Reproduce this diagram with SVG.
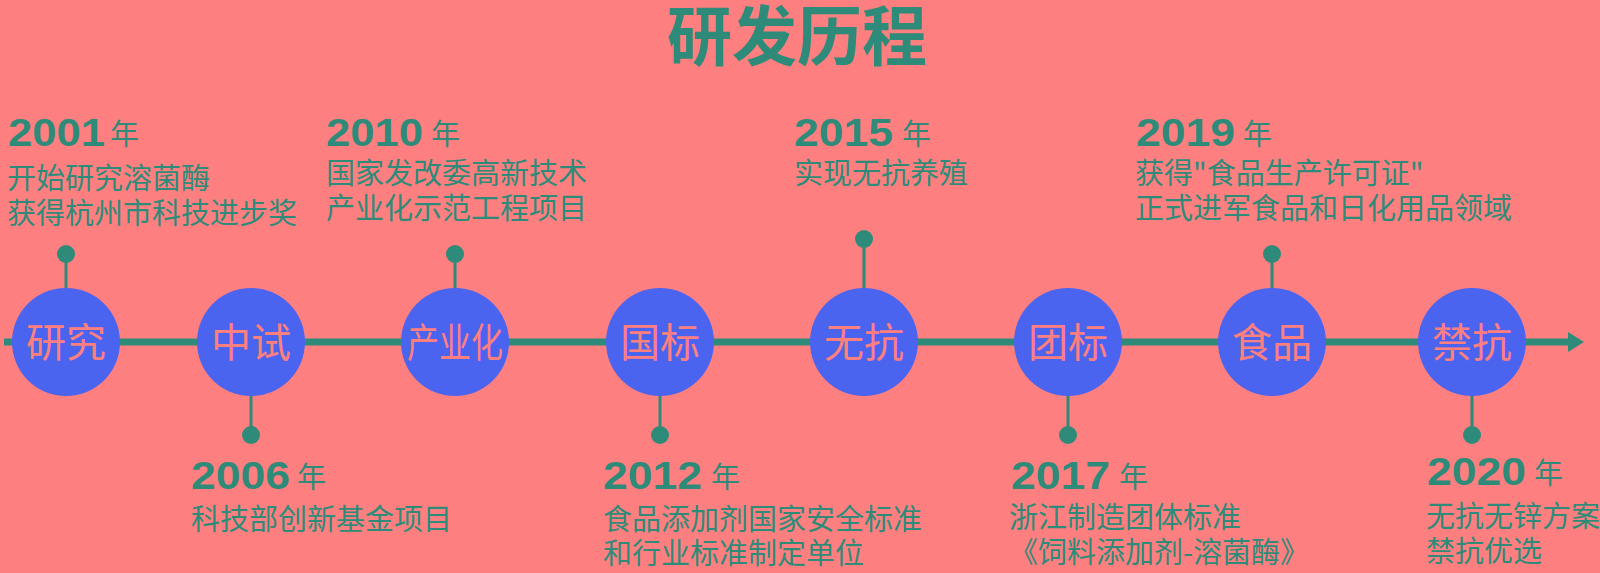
<svg xmlns="http://www.w3.org/2000/svg" width="1600" height="573" viewBox="0 0 1600 573">
<style>
.bg{fill:#FE7F7F}
.ttl{font-family:"Noto Sans CJK SC","Noto Sans",sans-serif;font-weight:bold;font-size:65px;fill:#2E8B7A}
.node{fill:#4B64EF}
.lbl{font-family:"Noto Sans CJK SC","Noto Sans",sans-serif;font-size:40px;fill:#FF7F7F;text-anchor:middle}
.yr{font-family:"Liberation Sans",Arial,sans-serif;font-weight:bold;font-size:38px;fill:#2E8B7A}
.nian{font-family:"Noto Sans CJK SC",sans-serif;font-size:29px;fill:#2E8B7A}
.txt{font-family:"Noto Sans CJK SC","Noto Sans",sans-serif;font-size:29px;fill:#2E8B7A}
.stem{stroke:#2E8B7A;stroke-width:3;fill:none}
.dot{fill:#2E8B7A}
</style>
<rect class="bg" x="0" y="0" width="1600" height="573"/>
<text class="ttl" x="797" y="60" text-anchor="middle">研发历程</text>

<g id="connectors">
  <line x1="4" y1="342" x2="1570" y2="342" stroke="#2E8B7A" stroke-width="7"/>
  <polygon points="1568,332 1584,342 1568,352" fill="#2E8B7A"/>
  <line class="stem" x1="66" y1="254" x2="66" y2="290"/>
  <line class="stem" x1="251" y1="394" x2="251" y2="435"/>
  <line class="stem" x1="455" y1="254" x2="455" y2="290"/>
  <line class="stem" x1="660" y1="394" x2="660" y2="435"/>
  <line class="stem" x1="864" y1="239" x2="864" y2="290"/>
  <line class="stem" x1="1068" y1="394" x2="1068" y2="435"/>
  <line class="stem" x1="1272" y1="254" x2="1272" y2="290"/>
  <line class="stem" x1="1472" y1="394" x2="1472" y2="435"/>
  <circle class="dot" cx="66" cy="254" r="9"/>
  <circle class="dot" cx="251" cy="435" r="9"/>
  <circle class="dot" cx="455" cy="254" r="9"/>
  <circle class="dot" cx="660" cy="435" r="9"/>
  <circle class="dot" cx="864" cy="239" r="9"/>
  <circle class="dot" cx="1068" cy="435" r="9"/>
  <circle class="dot" cx="1272" cy="254" r="9"/>
  <circle class="dot" cx="1472" cy="435" r="9"/>
</g>

<g id="n2001">
  <circle class="node" cx="66" cy="342" r="54"/>
  <text class="lbl" x="66" y="357">研究</text>
  <text class="yr" x="8" y="146" textLength="97" lengthAdjust="spacingAndGlyphs">2001</text>
  <text class="nian" x="110" y="145">年</text>
  <text class="txt" x="7" y="189">开始研究溶菌酶</text>
  <text class="txt" x="7" y="224">获得杭州市科技进步奖</text>
</g>

<g id="n2006">
  <circle class="node" cx="251" cy="342" r="54"/>
  <text class="lbl" x="251" y="357">中试</text>
  <text class="yr" x="191" y="489" textLength="99" lengthAdjust="spacingAndGlyphs">2006</text>
  <text class="nian" x="297" y="488">年</text>
  <text class="txt" x="191" y="530">科技部创新基金项目</text>
</g>

<g id="n2010">
  <circle class="node" cx="455" cy="342" r="54"/>
  <text class="lbl" x="455" y="357" textLength="96" lengthAdjust="spacingAndGlyphs">产业化</text>
  <text class="yr" x="326" y="146" textLength="97" lengthAdjust="spacingAndGlyphs">2010</text>
  <text class="nian" x="431" y="145">年</text>
  <text class="txt" x="326" y="184">国家发改委高新技术</text>
  <text class="txt" x="326" y="219">产业化示范工程项目</text>
</g>

<g id="n2012">
  <circle class="node" cx="660" cy="342" r="54"/>
  <text class="lbl" x="660" y="357">国标</text>
  <text class="yr" x="603" y="489" textLength="99" lengthAdjust="spacingAndGlyphs">2012</text>
  <text class="nian" x="711" y="488">年</text>
  <text class="txt" x="603" y="530">食品添加剂国家安全标准</text>
  <text class="txt" x="603" y="564">和行业标准制定单位</text>
</g>

<g id="n2015">
  <circle class="node" cx="864" cy="342" r="54"/>
  <text class="lbl" x="864" y="357">无抗</text>
  <text class="yr" x="794" y="146" textLength="99" lengthAdjust="spacingAndGlyphs">2015</text>
  <text class="nian" x="902" y="145">年</text>
  <text class="txt" x="794" y="184">实现无抗养殖</text>
</g>

<g id="n2017">
  <circle class="node" cx="1068" cy="342" r="54"/>
  <text class="lbl" x="1068" y="357">团标</text>
  <text class="yr" x="1011" y="489" textLength="99" lengthAdjust="spacingAndGlyphs">2017</text>
  <text class="nian" x="1119" y="488">年</text>
  <text class="txt" x="1009" y="528">浙江制造团体标准</text>
  <text class="txt" x="1009" y="563">《饲料添加剂-溶菌酶》</text>
</g>

<g id="n2019">
  <circle class="node" cx="1272" cy="342" r="54"/>
  <text class="lbl" x="1272" y="357">食品</text>
  <text class="yr" x="1136" y="146" textLength="99" lengthAdjust="spacingAndGlyphs">2019</text>
  <text class="nian" x="1243" y="145">年</text>
  <text class="txt" x="1135" y="184">获得"食品生产许可证"</text>
  <text class="txt" x="1135" y="219">正式进军食品和日化用品领域</text>
</g>

<g id="n2020">
  <circle class="node" cx="1472" cy="342" r="54"/>
  <text class="lbl" x="1472" y="357">禁抗</text>
  <text class="yr" x="1427" y="485" textLength="99" lengthAdjust="spacingAndGlyphs">2020</text>
  <text class="nian" x="1534" y="484">年</text>
  <text class="txt" x="1426" y="527">无抗无锌方案</text>
  <text class="txt" x="1426" y="562">禁抗优选</text>
</g>
</svg>
